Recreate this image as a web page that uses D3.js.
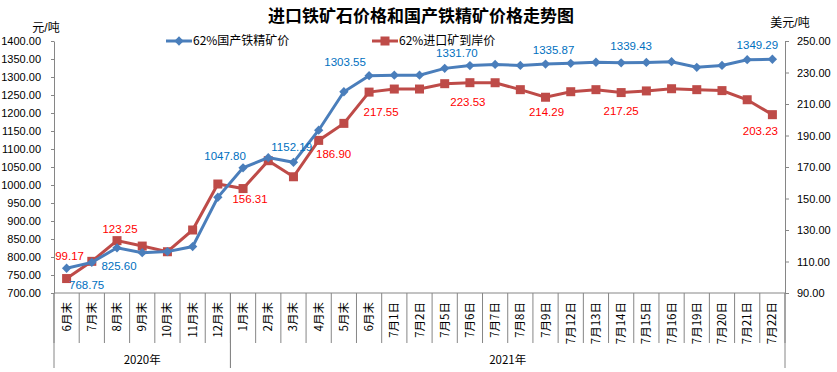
<!DOCTYPE html>
<html>
<head>
<meta charset="utf-8">
<script src="https://cdn.jsdelivr.net/npm/d3@7"></script>
<style>
  body { margin: 0; background: #fff; }
  svg { display: block; font-family: "Liberation Sans", "Noto Sans CJK SC", sans-serif; }
</style>
</head>
<body>
<svg id="chart" width="837" height="372"></svg>
<script>
// categories (2020: 6月末..12月末, 2021: 1月末..7月22日)
const categories = ['6月末','7月末','8月末','9月末','10月末','11月末','12月末',
  '1月末','2月末','3月末','4月末','5月末','6月末',
  '7月1日','7月2日','7月5日','7月6日','7月7日','7月8日','7月9日','7月12日',
  '7月13日','7月14日','7月15日','7月16日','7月19日','7月20日','7月21日','7月22日'];
const years = ['2020年', '2021年'];
const yearCounts = [7, 22];

// 62%国产铁精矿价 (元/吨, left axis)
const domestic = [768.75, 785, 825.60, 812, 815, 829, 966,
  1047.80, 1076, 1063, 1152.19, 1259, 1303.55,
  1305, 1305, 1324, 1331.70, 1335, 1332, 1335.87, 1338,
  1341, 1339.43, 1340.5, 1342.5, 1327, 1332, 1348, 1349.29];
// 62%进口矿到岸价 (美元/吨, right axis)
const imported = [99.17, 110.1, 123.25, 119.8, 116.2, 130, 159.2,
  156.31, 174, 163.8, 186.90, 197.7, 217.55,
  219.5, 219.5, 222.9, 223.53, 223.5, 219.1, 214.29, 217.8,
  219.1, 217.25, 218.3, 219.7, 219.1, 218.5, 212.7, 203.23];

const leftTicks = d3.range(700, 1401, 50);
const rightTicks = d3.range(90, 251, 20);

// which points carry a value label, and where the label sits
const domesticLabels = [[0, 20, 17], [2, 2, 18], [7, -18, -12], [10, -27, 17], [12, -24, -14],
  [16, -13, -13], [19, 8, -14], [22, 10, -17], [28, -15, -14]];
const importedLabels = [[0, 3, -23], [2, 3, -12], [7, 7, 10], [10, 15, 14], [12, 12, 20],
  [16, -2, 19], [19, 1, 15], [22, 0, 18], [28, -12, 16]];

const blue = '#4a7ebb', red = '#be4b48';
const plotLeft = 54, plotRight = 785, plotTop = 41, plotBottom = 293;

const svg = d3.select('#chart');

const x = d3.scaleBand().domain(d3.range(categories.length)).range([plotLeft, plotRight]);
const yL = d3.scaleLinear().domain([700, 1400]).range([plotBottom, plotTop]);
const yR = d3.scaleLinear().domain([90, 250]).range([plotBottom, plotTop]);
const cx = i => x(i) + x.bandwidth() / 2;

// title
svg.append('text')
  .attr('x', 421).attr('y', 22)
  .attr('text-anchor', 'middle')
  .attr('font-family', '"Noto Sans CJK SC", sans-serif')
  .attr('font-weight', 'bold').attr('font-size', 17)
  .text('进口铁矿石价格和国产铁精矿价格走势图');

// unit labels
svg.append('text').attr('x', 46).attr('y', 32).attr('text-anchor', 'middle')
  .attr('font-size', 12).text('元/吨');
svg.append('text').attr('x', 790).attr('y', 27).attr('text-anchor', 'middle')
  .attr('font-size', 12).text('美元/吨');

// axes
function styleAxis(g) {
  g.selectAll('path, line').attr('stroke', '#868686');
  g.selectAll('text').attr('font-size', 11).attr('fill', '#000')
    .attr('font-family', '"Liberation Sans", sans-serif');
}
svg.append('g').attr('transform', `translate(${plotLeft},0)`)
  .call(d3.axisLeft(yL).tickValues(leftTicks).tickFormat(d3.format('.2f'))
    .tickSize(3).tickSizeOuter(0).tickPadding(10))
  .call(styleAxis);
svg.append('g').attr('transform', `translate(${plotRight},0)`)
  .call(d3.axisRight(yR).tickValues(rightTicks).tickFormat(d3.format('.2f'))
    .tickSize(4).tickSizeOuter(0).tickPadding(8))
  .call(styleAxis);

// category axis
const cat = svg.append('g');
cat.append('line').attr('x1', plotLeft).attr('x2', plotRight).attr('y1', plotBottom).attr('y2', plotBottom)
  .attr('stroke', '#868686');
cat.selectAll('line.tick').data(d3.range(categories.length + 1)).join('line')
  .attr('class', 'tick')
  .attr('x1', i => i < categories.length ? x(i) : plotRight)
  .attr('x2', i => i < categories.length ? x(i) : plotRight)
  .attr('y1', plotBottom).attr('y2', plotBottom + 50)
  .attr('stroke', '#868686');
cat.selectAll('text.cat').data(categories).join('text')
  .attr('class', 'cat')
  .attr('transform', (d, i) => `translate(${cx(i) + 4},${plotBottom + 9}) rotate(-90)`)
  .attr('text-anchor', 'end')
  .attr('font-size', 11.5)
  .attr('font-family', '"Noto Sans CJK SC", sans-serif')
  .text(d => d);

// year groups
let start = 0;
years.forEach((yr, k) => {
  const end = start + yearCounts[k];
  const x0 = x(start), x1 = end < categories.length ? x(end) : plotRight;
  [x0, x1].forEach(xx => cat.append('line')
    .attr('x1', xx).attr('x2', xx).attr('y1', plotBottom).attr('y2', 368)
    .attr('stroke', '#868686'));
  cat.append('text').attr('x', (x0 + x1) / 2).attr('y', 364)
    .attr('text-anchor', 'middle').attr('font-size', 11.5)
    .attr('font-family', '"Noto Sans CJK SC", sans-serif')
    .text(yr);
  start = end;
});

// series
const lineL = d3.line().x((d, i) => cx(i)).y(d => yL(d));
const lineR = d3.line().x((d, i) => cx(i)).y(d => yR(d));

svg.append('path').datum(imported).attr('d', lineR)
  .attr('fill', 'none').attr('stroke', red).attr('stroke-width', 3);
svg.selectAll('rect.pt').data(imported).join('rect').attr('class', 'pt')
  .attr('x', (d, i) => cx(i) - 4.5).attr('y', d => yR(d) - 4.5)
  .attr('width', 9).attr('height', 9).attr('fill', red);

svg.append('path').datum(domestic).attr('d', lineL)
  .attr('fill', 'none').attr('stroke', blue).attr('stroke-width', 3);
svg.selectAll('path.pt').data(domestic).join('path').attr('class', 'pt')
  .attr('d', d3.symbol(d3.symbolDiamond2, 55))
  .attr('transform', (d, i) => `translate(${cx(i)},${yL(d)})`)
  .attr('fill', blue);

// value labels
svg.selectAll('text.lb').data(domesticLabels).join('text').attr('class', 'lb')
  .attr('x', d => cx(d[0]) + d[1]).attr('y', d => yL(domestic[d[0]]) + d[2])
  .attr('dy', '0.35em').attr('text-anchor', 'middle')
  .attr('font-size', 11.5).attr('fill', '#0070c0')
  .text(d => d3.format('.2f')(domestic[d[0]]));
svg.selectAll('text.lr').data(importedLabels).join('text').attr('class', 'lr')
  .attr('x', d => cx(d[0]) + d[1]).attr('y', d => yR(imported[d[0]]) + d[2])
  .attr('dy', '0.35em').attr('text-anchor', 'middle')
  .attr('font-size', 11.5).attr('fill', '#ff0000')
  .text(d => d3.format('.2f')(imported[d[0]]));

// legend
const legend = [
  { name: '62%国产铁精矿价', color: blue, x: 166, shape: 'diamond' },
  { name: '62%进口矿到岸价', color: red, x: 372, shape: 'square' }
];
legend.forEach(l => {
  const g = svg.append('g').attr('transform', `translate(${l.x},41)`);
  g.append('line').attr('x1', 0).attr('x2', 26).attr('stroke', l.color).attr('stroke-width', 3);
  if (l.shape === 'diamond') {
    g.append('path').attr('d', d3.symbol(d3.symbolDiamond2, 55)).attr('transform', 'translate(13,0)')
      .attr('fill', l.color);
  } else {
    g.append('rect').attr('x', 8.5).attr('y', -4.5).attr('width', 9).attr('height', 9).attr('fill', l.color);
  }
  g.append('text').attr('x', 27).attr('dy', '0.35em').attr('font-size', 12)
    .attr('font-family', '"Noto Sans CJK SC", sans-serif').text(l.name);
});
</script>
</body>
</html>
